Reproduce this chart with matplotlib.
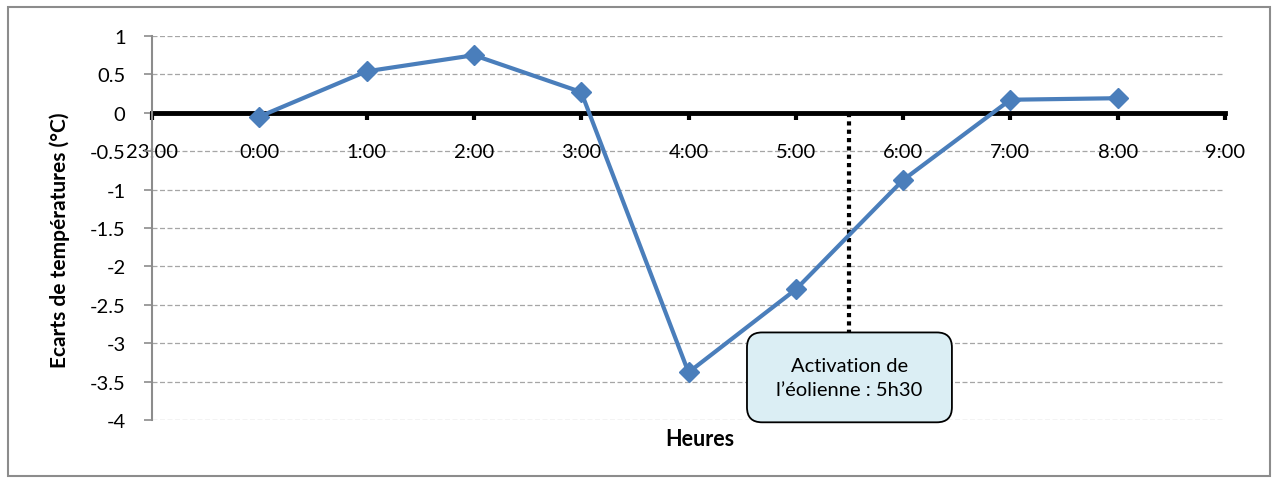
import matplotlib.pyplot as plt
from matplotlib.patches import Rectangle, FancyBboxPatch

plt.rcParams['font.family'] = ['Lato', 'DejaVu Sans']

# hours after 23:00 on the x axis, temperature differences in °C
hour_ticks = [-1, 0, 1, 2, 3, 4, 5, 6, 7, 8, 9]
hour_labels = ['23:00', '0:00', '1:00', '2:00', '3:00', '4:00', '5:00',
               '6:00', '7:00', '8:00', '9:00']
hours = [0, 1, 2, 3, 4, 5, 6, 7, 8]
ecarts = [-0.05, 0.54, 0.75, 0.27, -3.38, -2.30, -0.875, 0.17, 0.19]
activation = 5.5  # 5h30
y_ticks = [1, 0.5, 0, -0.5, -1, -1.5, -2, -2.5, -3, -3.5, -4]
y_labels = ['1', '0.5', '0', '-0.5', '-1', '-1.5', '-2', '-2.5', '-3', '-3.5', '-4']

fig = plt.figure(figsize=(12.77, 4.85), dpi=100)
ax = fig.add_axes([152 / 1277, 1 - 421 / 485, 1073 / 1277, 384 / 485])

# outer chart frame
fig.patches.append(Rectangle((8 / 1277, 8 / 485), 1262 / 1277, 469 / 485,
                             transform=fig.transFigure, fill=False,
                             edgecolor='#8c8c8c', lw=1.5))

ax.set_xlim(-1, 9)
ax.set_ylim(-4, 1)

for y in y_ticks:
    if y != 0:
        ax.axhline(y, color='#a6a6a6', lw=0.9, ls=(0, (4, 2)), zorder=0)

ax.plot(hours, ecarts, color='#4a7ebb', lw=3, marker='D', markersize=10,
        zorder=4)

# activation line and label box
ax.plot([activation, activation], [0, -2.9], color='black', lw=3,
        ls=(0, (1, 1)), zorder=3)
box_w, box_top, box_bottom = 1.91, -2.86, -4.03
ax.add_patch(FancyBboxPatch((activation - box_w / 2, box_bottom), box_w,
                            box_top - box_bottom,
                            boxstyle='round,pad=0,rounding_size=0.14',
                            mutation_aspect=1.4, facecolor='#dbeef4',
                            edgecolor='black', lw=1.3, zorder=5,
                            clip_on=False))
ax.text(activation, (box_top + box_bottom) / 2,
        'Activation de\nl\u2019éolienne : 5h30',
        ha='center', va='center', fontsize=14.5, linespacing=1.55, zorder=6)

for side in ['top', 'right']:
    ax.spines[side].set_visible(False)
ax.spines['bottom'].set_position(('data', 0))
ax.spines['bottom'].set_color('black')
ax.spines['bottom'].set_linewidth(3.5)
ax.spines['bottom'].set_zorder(2)
ax.spines['left'].set_color('#8c8c8c')
ax.spines['left'].set_linewidth(1.5)

ax.set_xticks(hour_ticks)
ax.set_xticklabels(hour_labels)
ax.tick_params(axis='x', direction='out', length=5, width=3, color='black',
               pad=17, labelsize=14.5)
ax.set_yticks(y_ticks)
ax.set_yticklabels(y_labels)
ax.tick_params(axis='y', direction='out', length=6, width=1.2,
               color='#8c8c8c', pad=13, labelsize=14.5)

ax.set_ylabel('Ecarts de températures (°C)', fontsize=15, fontweight='bold')
ax.yaxis.set_label_coords(-0.076, 0.47)
fig.text(700 / 1277, 1 - 440 / 485, 'Heures', ha='center', va='center',
         fontsize=15.5, fontweight='bold')

fig.savefig('out.png', dpi=100)
